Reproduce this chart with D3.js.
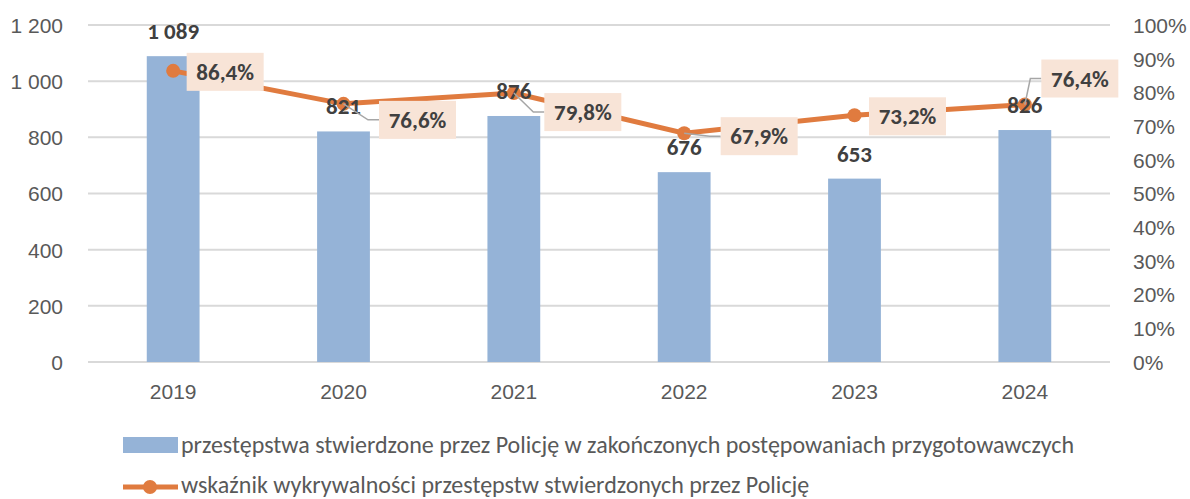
<!DOCTYPE html>
<meta charset="utf-8">
<style>
body { margin: 0; background: #fff; }
svg { font-family: Carlito, Calibri, "Liberation Sans", sans-serif; }
.axis text { fill: #595959; font-size: 21px; }
.axis path, .axis line { display: none; }
.grid line { stroke: #D9D9D9; stroke-width: 2px; }
.barlabel { fill: #404040; font-size: 23px; font-weight: bold; }
.pctlabel { fill: #404040; font-size: 23px; font-weight: bold; }
.legend text { fill: #595959; font-size: 24px; }
</style>
<body>
<svg width="1190" height="499"></svg>
<script src="https://cdnjs.cloudflare.com/ajax/libs/d3/7.8.5/d3.min.js"></script>
<script>
var years = ["2019", "2020", "2021", "2022", "2023", "2024"];
var crimes = [1089, 821, 876, 676, 653, 826];
var rate = [86.4, 76.6, 79.8, 67.9, 73.2, 76.4];
var leftTicks = [0, 200, 400, 600, 800, 1000, 1200];
var rightTicks = [0, 10, 20, 30, 40, 50, 60, 70, 80, 90, 100];
var seriesNames = ["przestępstwa stwierdzone przez Policję w zakończonych postępowaniach przygotowawczych",
                   "wskaźnik wykrywalności przestępstw stwierdzonych przez Policję"];
// where each percentage box sits, relative to its point
var boxOffset = [[52, 1], [74, 16], [69, 19], [75, 3], [53, 1], [55, -26]];

var svg = d3.select("svg"),
    margin = {top: 25, right: 80, bottom: 137, left: 88},
    width = 1190 - margin.left - margin.right,
    height = 499 - margin.top - margin.bottom;

var barColor = "#95B3D7", lineColor = "#E07B3F";

var fmt = function(d) { return d >= 1000 ? Math.floor(d / 1000) + " " + String(d % 1000).padStart(3, "0") : String(d); };

var x = d3.scaleBand().domain(years).range([0, width]).paddingInner(0.69).paddingOuter(0.345);
var y = d3.scaleLinear().domain([0, 1200]).range([height, 0]);
var y2 = d3.scaleLinear().domain([0, 100]).range([height, 0]);

var g = svg.append("g").attr("transform", "translate(" + margin.left + "," + margin.top + ")");

g.append("g").attr("class", "grid")
  .selectAll("line").data(leftTicks).enter().append("line")
    .attr("x1", 0).attr("x2", width)
    .attr("y1", function(d) { return y(d); }).attr("y2", function(d) { return y(d); });

g.append("g").attr("class", "axis")
  .attr("transform", "translate(-22,0)")
  .call(d3.axisLeft(y).tickValues(leftTicks).tickSize(0).tickFormat(fmt))
  .selectAll("text").attr("dy", "0.35em");

g.append("g").attr("class", "axis")
  .attr("transform", "translate(" + (width + 20) + ",0)")
  .call(d3.axisRight(y2).tickValues(rightTicks).tickSize(0).tickFormat(function(d) { return d + "%"; }))
  .selectAll("text").attr("dy", "0.35em");

g.append("g").attr("class", "axis")
  .attr("transform", "translate(0," + (height + 27) + ")")
  .call(d3.axisBottom(x).tickSize(0))
  .selectAll("text").attr("dy", "0.35em");

// bars
g.selectAll(".bar").data(crimes).enter().append("rect")
  .attr("class", "bar")
  .attr("x", function(d, i) { return x(years[i]); })
  .attr("width", x.bandwidth())
  .attr("y", function(d) { return y(d); })
  .attr("height", function(d) { return height - y(d); })
  .attr("fill", barColor);

var cx = function(i) { return x(years[i]) + x.bandwidth() / 2; };

// line
var line = d3.line()
  .x(function(d, i) { return cx(i); })
  .y(function(d) { return y2(d); });

g.append("path").datum(rate)
  .attr("fill", "none").attr("stroke", lineColor).attr("stroke-width", 5)
  .attr("d", line);

g.selectAll(".dot").data(rate).enter().append("circle")
  .attr("cx", function(d, i) { return cx(i); })
  .attr("cy", function(d) { return y2(d); })
  .attr("r", 7).attr("fill", lineColor);

// bar labels
g.selectAll(".barlabel").data(crimes).enter().append("text")
  .attr("class", "barlabel")
  .attr("x", function(d, i) { return cx(i); })
  .attr("y", function(d) { return y(d) - 25; })
  .attr("dy", "0.35em")
  .attr("text-anchor", "middle")
  .text(fmt);

// percentage labels with leader lines
var bw = 77, bh = 38;
rate.forEach(function(d, i) {
  var px = cx(i), py = y2(d);
  var bx = px + boxOffset[i][0], by = py + boxOffset[i][1];
  var left = bx - bw / 2;
  if (boxOffset[i][0] > 60 || Math.abs(boxOffset[i][1]) > 10) {
    var elbowX = left - 11;
    g.append("polyline")
      .attr("points", [[px, py], [elbowX, by], [left, by]].map(function(p) { return p.join(","); }).join(" "))
      .attr("fill", "none").attr("stroke", "#A6A6A6").attr("stroke-width", 1.5);
  }
  g.append("rect")
    .attr("x", left).attr("y", by - bh / 2)
    .attr("width", bw).attr("height", bh)
    .attr("fill", "#F8E4D7");
  g.append("text").attr("class", "pctlabel")
    .attr("x", bx).attr("y", by).attr("dy", "0.35em")
    .attr("text-anchor", "middle")
    .text(d.toFixed(1).replace(".", ",") + "%");
});

// legend
var lg = svg.append("g").attr("class", "legend");
lg.append("rect").attr("x", 123).attr("y", 437).attr("width", 55).attr("height", 16).attr("fill", barColor);
lg.append("text").attr("x", 181).attr("y", 445).attr("dy", "0.35em").text(seriesNames[0]);
lg.append("line").attr("x1", 123).attr("x2", 178).attr("y1", 487).attr("y2", 487)
  .attr("stroke", lineColor).attr("stroke-width", 5);
lg.append("circle").attr("cx", 150).attr("cy", 487).attr("r", 7).attr("fill", lineColor);
lg.append("text").attr("x", 181).attr("y", 485).attr("dy", "0.35em").text(seriesNames[1]);
</script>
